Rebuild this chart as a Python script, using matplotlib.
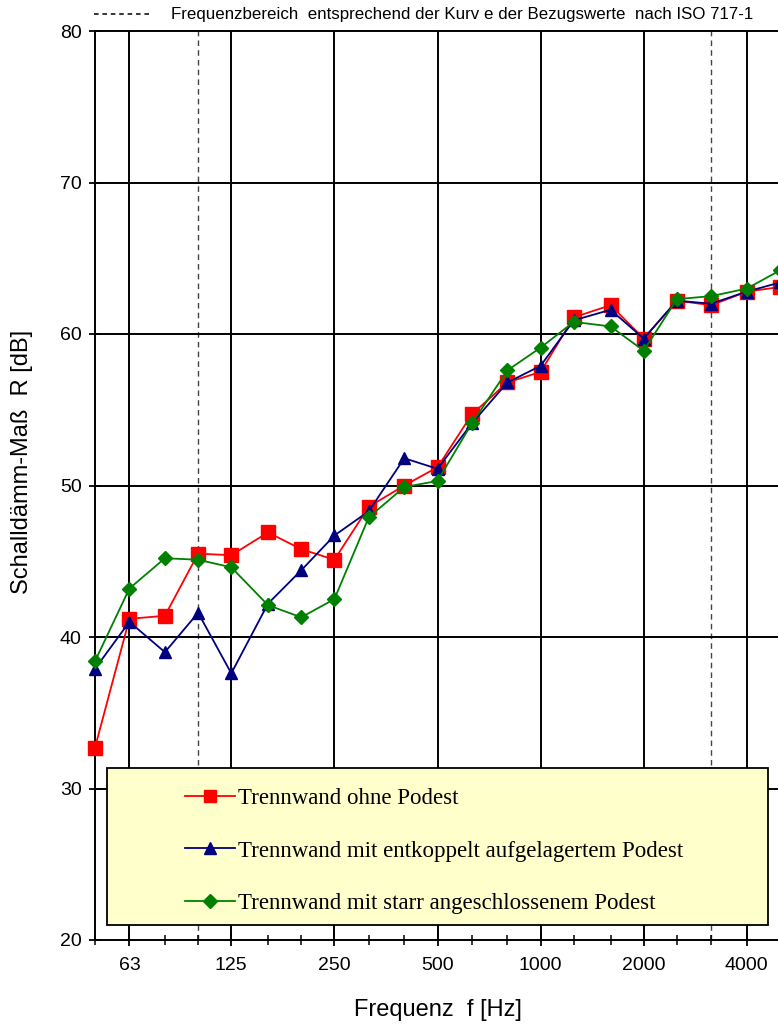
import numpy as np
import matplotlib.pyplot as plt
from matplotlib.patches import Rectangle
from matplotlib.lines import Line2D

freqs = [50, 63, 80, 100, 125, 160, 200, 250, 315, 400, 500, 630, 800,
         1000, 1250, 1600, 2000, 2500, 3150, 4000, 5000]

r_ohne = [32.7, 41.2, 41.4, 45.5, 45.4, 46.9, 45.8, 45.1, 48.6, 50.0, 51.2,
          54.7, 56.8, 57.5, 61.1, 61.9, 59.7, 62.2, 61.9, 62.8, 63.1]
r_entkoppelt = [37.9, 41.0, 39.0, 41.6, 37.6, 42.2, 44.4, 46.7, 48.3, 51.8, 51.1,
                54.1, 56.8, 57.9, 60.9, 61.6, 59.7, 62.2, 62.0, 62.8, 63.4]
r_starr = [38.4, 43.2, 45.2, 45.1, 44.6, 42.1, 41.3, 42.5, 47.9, 49.9, 50.3,
           54.1, 57.6, 59.1, 60.8, 60.5, 58.9, 62.3, 62.5, 63.0, 64.2]

major_freqs = [63, 125, 250, 500, 1000, 2000, 4000]
iso_range = [100, 3150]

series = [
    ("Trennwand ohne Podest", r_ohne, "#ff0000", "s", 9.5),
    ("Trennwand mit entkoppelt aufgelagertem Podest", r_entkoppelt, "#000080", "^", 9),
    ("Trennwand mit starr angeschlossenem Podest", r_starr, "#008000", "D", 7.5),
]

plt.rcParams["font.family"] = ["Liberation Sans", "DejaVu Sans"]

fig = plt.figure(figsize=(7.78, 10.24), dpi=100)
ax = fig.add_axes([95 / 778, 84 / 1024, 685 / 778, 909 / 1024])
ax.set_xscale("log")
ax.set_xlim(50, 5000)
ax.set_ylim(20, 80)

# grid
for f in major_freqs:
    ax.axvline(f, color="black", lw=1.4, zorder=1)
for f in iso_range:
    ax.axvline(f, color="#444444", lw=1.0, ls=(0, (4, 3)), zorder=1)
for v in range(30, 80, 10):
    ax.axhline(v, color="black", lw=1.4, zorder=1)

# legend box
ax.add_patch(Rectangle(((107 - 95) / 685, (940 - 925) / 909),
                       (768 - 107) / 685, (925 - 768) / 909,
                       transform=ax.transAxes, facecolor="#ffffcc",
                       edgecolor="black", lw=1.3, zorder=2))

handles = []
for label, vals, color, marker, ms in series:
    ax.plot(freqs, vals, color=color, lw=1.3, marker=marker, markersize=ms,
            markeredgecolor=color, clip_on=False, zorder=4)
    handles.append(Line2D([], [], color=color, lw=1.3, marker=marker,
                          markersize=ms * 0.9, markeredgecolor=color))

fig.legend(handles, [s[0] for s in series], loc="center left",
           bbox_to_anchor=(174 / 778, 1 - 851 / 1024), frameon=False,
           borderpad=0, handlelength=2.15, handletextpad=0.15, labelspacing=1.37,
           prop={"family": "Liberation Serif", "size": 16.5})

# ticks
ax.set_xticks(major_freqs)
ax.set_xticklabels([str(f) for f in major_freqs])
ax.set_yticks(range(20, 81, 10))
ax.tick_params(axis="both", which="major", direction="inout", length=9,
               width=1.3, labelsize=14, pad=8)
ax.minorticks_on()
ax.set_xticks(freqs, minor=True)
ax.yaxis.set_minor_locator(plt.NullLocator())
ax.xaxis.set_minor_formatter(plt.NullFormatter())
ax.tick_params(axis="x", which="minor", direction="inout", length=7, width=1.1)
ax.tick_params(axis="y", which="major", pad=5)

for sp in ax.spines.values():
    sp.set_linewidth(1.4)

ax.set_xlabel("Frequenz  f [Hz]", fontsize=17, labelpad=18)
ax.set_ylabel("Schalldämm-Maß  R [dB]", fontsize=17)
ax.yaxis.set_label_coords(-0.091, 0.526)

# header note
fig.add_artist(Line2D([94 / 778, 151 / 778], [1 - 14 / 1024, 1 - 14 / 1024],
                      color="black", lw=1.1, ls=(0, (3, 2.5))))
fig.text(171 / 778, 1 - 14 / 1024,
         "Frequenzbereich  entsprechend der Kurv e der Bezugswerte  nach ISO 717-1",
         fontsize=12.2, va="center", ha="left")

fig.savefig("out.png", dpi=100)
